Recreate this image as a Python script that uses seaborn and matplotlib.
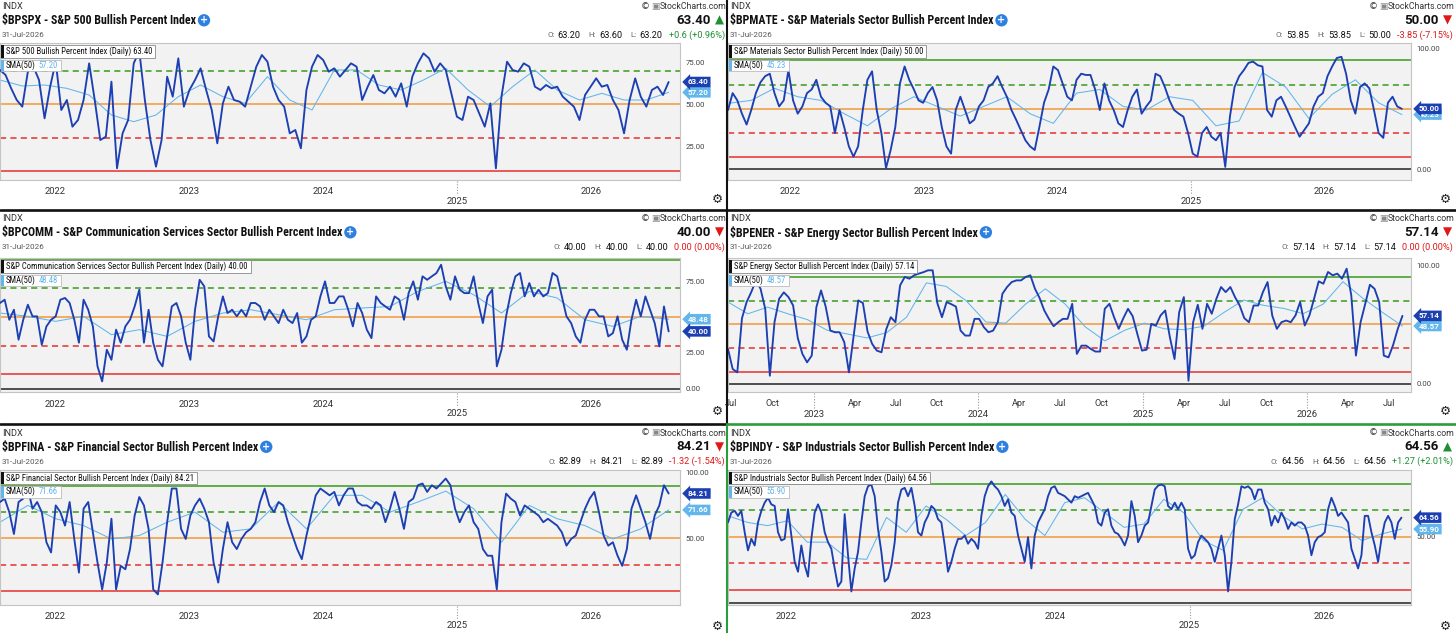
import os
import numpy as np
import pandas as pd
import matplotlib
matplotlib.use("Agg")
import matplotlib.pyplot as plt
import matplotlib.dates as mdates
import matplotlib.transforms as mtransforms
from matplotlib import font_manager as fm
from matplotlib.patches import Rectangle
from matplotlib.lines import Line2D
import seaborn as sns

# ------------------------------------------------------------------ data
END_DATE = "2026-07-31"
DATE_LABEL = "31-Jul-2026"

spx_start = "2021-08-04"
spx_bpi = [70.6, 67.6, 59.6, 52.6, 48.6, 69.6, 72.6, 64.6, 41.6, 60.6,
           75.6, 46.6, 52.6, 36.6, 40.6, 52.6, 74.6, 52.6, 28.6, 30.6,
           63.6, 11.6, 32.6, 40.6, 74.6, 82.0, 52.6, 28.6, 12.6, 28.6,
           66.6, 54.6, 77.6, 48.6, 58.6, 64.6, 71.6, 58.6, 46.6, 26.6,
           50.6, 60.6, 52.6, 51.6, 48.6, 60.6, 72.6, 79.6, 75.6, 60.6,
           52.6, 48.6, 32.6, 34.6, 23.6, 58.6, 72.6, 79.6, 76.6, 69.6,
           71.6, 66.6, 70.6, 74.6, 72.6, 52.6, 60.6, 67.6, 58.6, 56.6,
           60.6, 54.6, 62.6, 48.6, 66.6, 74.6, 80.6, 77.6, 69.6, 74.6,
           70.6, 56.6, 42.6, 40.6, 54.6, 52.6, 44.6, 36.6, 50.6, 11.6,
           54.6, 75.6, 70.6, 69.6, 74.6, 72.6, 60.6, 58.6, 61.6, 59.6,
           60.6, 54.6, 51.6, 48.6, 40.6, 55.6, 60.6, 65.6, 60.6, 61.6,
           52.6, 46.6, 32.6, 52.6, 65.6, 54.6, 48.6, 58.6, 60.6, 55.6, 63.4]
spx_sma = [64.6, 61.0, 61.6, 59.6, 55.6, 43.6, 39.6, 43.6, 54.6, 61.6,
           54.6, 50.6, 66.6, 52.6, 46.6, 70.6, 70.6, 61.6, 58.6, 64.6,
           71.6, 58.6, 48.6, 60.6, 70.6, 58.6, 52.6, 56.6, 52.6, 52.6, 57.2]

mate_start = "2021-07-15"
mate_bpi = [49, 63, 57, 46, 37, 49, 63, 72, 77, 79,
            63, 52, 57, 82, 57, 46, 52, 63, 66, 74,
            60, 55, 52, 30, 49, 35, 19, 10.5, 19, 49,
            74, 81, 49, 30, 1, 16, 35, 71, 85, 74,
            66, 57, 55, 63, 68, 57, 35, 19, 13, 49,
            60, 49, 38, 41, 52, 57, 68, 71, 77, 68,
            60, 49, 41, 32.5, 24, 19, 16, 35, 55, 66,
            85, 82, 71, 60, 57, 74, 79, 78, 78, 66,
            49, 71, 57, 49, 38, 35, 49, 60, 66, 46,
            52, 57, 79, 77, 68, 57, 49, 46, 43.5, 30,
            13, 10.5, 30, 35, 27, 24, 30, 2, 43.5, 68,
            77, 82, 88, 89, 86, 85, 49, 43.5, 57, 60,
            52, 43.5, 35, 27, 32.5, 38, 52, 60, 63, 77,
            85, 92, 93, 79, 57, 46, 68, 71, 67, 49,
            30, 26, 55, 60, 52, 50.0]
mate_sma = [54.5, 57, 67, 60, 57, 46, 36, 50, 60, 52,
            44, 52, 60, 46, 38, 63, 66, 52, 49, 60,
            57, 36, 40, 80, 68, 42, 62, 74, 55, 45.23]

comm_start = "2021-08-04"
comm_bpi = [59.8, 62.1, 48.1, 55.1, 34.2, 48.1, 58.6, 50.5, 50.5, 30.7,
            43.5, 48.1, 50.5, 62.1, 63.3, 59.8, 48.1, 32.1, 62.1, 55.1,
            43.5, 15.6, 5.1, 27.2, 20.2, 41.2, 32.1, 43.5, 48.1, 57.4,
            69.1, 32.1, 55.1, 32.1, 20.2, 15.6, 36.5, 57.4, 59.8, 50.5,
            32.1, 20.2, 55.1, 76.0, 71.4, 36.5, 33.0, 50.5, 64.4, 52.8,
            55.1, 50.5, 55.1, 50.5, 59.8, 59.8, 57.4, 48.1, 55.1, 50.5,
            45.8, 55.1, 48.1, 45.8, 52.8, 32.1, 36.5, 48.1, 50.5, 64.4,
            74.9, 59.8, 59.8, 64.4, 64.4, 55.1, 43.5, 59.8, 52.8, 41.2,
            35.3, 64.4, 59.8, 57.4, 55.1, 64.4, 62.1, 48.1, 66.7, 74.9,
            62.1, 78.4, 76.0, 78.4, 80.7, 86.5, 71.4, 62.1, 78.4, 69.1,
            66.7, 66.7, 78.4, 59.8, 45.8, 64.4, 69.1, 15.6, 27.2, 50.5,
            66.7, 78.4, 80.7, 64.4, 73.7, 64.4, 69.1, 64.4, 66.7, 80.7,
            78.4, 64.4, 50.5, 45.8, 36.5, 32.1, 48.1, 55.1, 55.1, 50.5,
            50.5, 36.5, 38.8, 50.5, 34.2, 27.2, 48.1, 62.1, 50.5, 64.4,
            55.1, 45.8, 29.5, 57.4, 40.0]
comm_sma = [52.8, 50.5, 47.0, 50.5, 37.7, 41.2, 36.5, 47.0, 52.8, 55.1,
            51.6, 48.1, 55.1, 56.3, 57.4, 67.9, 74.9, 65.6, 52.8, 67.9,
            63.3, 48.1, 43.5, 50.5, 48.48]

ener_start = "2022-06-24"
ener_bpi = [29.2, 12.3, 9.4, 55.0, 68.8, 77.2, 87.0, 80.0, 63.1, 6.6,
            51.8, 71.6, 77.0, 73.0, 65.9, 38.5, 25.0, 17.9, 23.6, 64.5,
            78.6, 65.0, 44.7, 43.3, 43.3, 34.9, 9.4, 40.0, 70.2, 68.0,
            43.9, 33.4, 27.8, 26.4, 45.6, 56.0, 51.8, 82.9, 90.0, 88.5,
            91.4, 92.8, 94.0, 95.6, 95.6, 68.0, 56.0, 68.8, 67.0, 65.0,
            44.7, 40.5, 40.5, 54.6, 54.6, 47.6, 43.3, 44.7, 51.8, 75.8,
            81.5, 85.7, 87.1, 87.1, 90.0, 91.4, 80.0, 72.1, 61.7, 54.6,
            48.4, 51.8, 54.6, 54.6, 67.3, 25.0, 32.0, 32.0, 29.2, 27.0,
            27.0, 63.1, 67.3, 56.0, 46.2, 55.2, 63.1, 56.9, 41.9, 27.8,
            28.6, 50.4, 49.0, 57.5, 61.7, 39.1, 20.7, 60.3, 73.0, 2.4,
            51.8, 66.5, 46.2, 67.3, 58.9, 71.6, 81.5, 77.2, 81.5, 73.0,
            65.9, 55.2, 51.8, 65.9, 65.9, 77.2, 85.7, 57.5, 46.2, 51.8,
            53.2, 51.8, 57.5, 68.8, 49.0, 57.5, 71.6, 86.3, 84.3, 94.2,
            91.4, 92.8, 88.5, 97.0, 74.4, 23.6, 51.8, 67.3, 83.4, 80.0,
            68.8, 23.6, 22.1, 32.6, 46.2, 57.14]
ener_sma = [68.8, 58.9, 64.5, 59.0, 54.0, 45.0, 41.9, 38.5, 43.0, 56.0,
            85.0, 82.0, 70.0, 52.0, 51.0, 67.0, 80.0, 67.0, 48.0, 36.0,
            45.0, 51.0, 46.2, 45.5, 48.5, 60.0, 70.5, 66.0, 63.5, 59.0,
            67.0, 86.0, 72.0, 60.0, 48.57]

fina_start = "2021-08-04"
fina_bpi = [77.7, 80.3, 70.0, 53.3, 77.7, 80.3, 88.0, 72.6, 77.7, 70.0,
            47.0, 39.2, 75.1, 70.0, 59.7, 77.7, 49.5, 23.8, 72.6, 77.7,
            54.6, 31.5, 11.0, 31.5, 64.9, 11.0, 29.0, 26.4, 41.8, 67.4,
            81.5, 75.1, 57.2, 11.0, 7.2, 31.5, 62.3, 88.0, 88.0, 57.2,
            49.5, 67.4, 75.1, 80.3, 72.6, 62.3, 31.5, 16.2, 41.8, 62.3,
            47.0, 41.8, 49.5, 54.6, 57.2, 62.3, 77.7, 88.0, 75.1, 70.0,
            77.7, 75.1, 62.3, 52.1, 41.8, 34.1, 52.1, 67.4, 82.8, 88.0,
            85.4, 82.8, 85.4, 75.1, 82.8, 88.0, 88.0, 77.7, 75.1, 75.1,
            72.6, 77.7, 75.1, 62.3, 72.6, 85.4, 72.6, 57.2, 77.7, 80.3,
            90.5, 91.8, 85.4, 90.5, 88.0, 91.8, 95.6, 90.5, 72.6, 62.3,
            70.0, 75.1, 62.3, 57.2, 41.8, 36.7, 36.7, 11.0, 62.3, 84.1,
            80.3, 77.7, 67.4, 75.1, 72.6, 70.0, 67.4, 62.3, 64.9, 62.3,
            59.7, 54.6, 44.4, 49.5, 52.1, 62.3, 72.6, 80.3, 85.4, 70.0,
            52.1, 44.4, 47.0, 36.7, 29.0, 41.8, 72.6, 82.8, 72.6, 62.3,
            49.5, 67.4, 75.1, 90.5, 84.21]
fina_sma = [62.3, 75.1, 64.9, 59.7, 49.5, 52.1, 62.3, 70.0, 54.6, 57.2,
            77.7, 57.2, 82.8, 82.8, 70.0, 77.7, 86.0, 72.6, 47.0, 75.1,
            64.9, 59.7, 49.5, 57.2, 71.66]

indy_start = "2021-07-26"
indy_bpi = [60.9, 68.4, 69.7, 65.9, 69.7, 53.5, 39.8, 48.5, 43.5, 60.9,
            69.7, 75.9, 79.6, 74.6, 73.4, 53.5, 47.3, 48.5, 70.9, 51.0,
            31.1, 23.6, 43.5, 28.6, 19.9, 48.5, 68.4, 74.6, 68.4, 53.5,
            46.0, 41.0, 26.1, 12.4, 16.2, 67.2, 36.1, 8.7, 26.1, 38.6,
            60.9, 80.8, 88.3, 89.6, 80.8, 56.0, 38.6, 16.2, 18.7, 28.6,
            46.0, 75.9, 85.8, 87.1, 80.8, 87.1, 73.4, 53.5, 51.0, 60.9,
            65.9, 73.4, 70.9, 63.4, 60.9, 43.5, 23.6, 31.1, 41.0, 48.5,
            48.5, 51.0, 44.8, 48.5, 46.0, 41.0, 65.9, 80.8, 88.3, 92.0,
            88.3, 85.8, 80.8, 73.4, 78.4, 68.4, 65.9, 51.0, 41.0, 31.1,
            49.8, 26.1, 51.0, 60.9, 65.9, 70.9, 80.8, 87.1, 88.3, 83.3,
            82.1, 80.8, 78.4, 75.9, 80.8, 79.6, 80.8, 82.1, 83.3, 78.4,
            73.4, 60.9, 58.5, 68.4, 70.9, 58.5, 53.5, 52.2, 48.5, 43.5,
            51.0, 77.1, 65.9, 46.0, 51.0, 58.5, 60.9, 73.4, 85.8, 88.8,
            89.6, 88.3, 73.4, 70.9, 75.9, 70.9, 75.9, 70.9, 41.0, 33.6,
            36.1, 46.0, 51.0, 48.5, 46.0, 41.0, 31.1, 41.0, 51.0, 36.1,
            8.7, 31.1, 63.4, 74.6, 88.3, 87.1, 88.3, 85.8, 78.4, 85.8,
            85.8, 75.9, 70.9, 58.5, 65.9, 60.9, 68.4, 63.4, 56.0, 60.9,
            58.5, 60.9, 60.9, 58.5, 51.0, 36.1, 46.0, 49.8, 51.0, 53.5,
            70.9, 79.6, 73.4, 65.9, 68.4, 64.7, 60.9, 41.0, 33.6, 26.1,
            36.1, 65.9, 65.9, 53.5, 43.5, 31.1, 48.5, 60.9, 65.9, 60.9,
            48.5, 60.9, 64.56]
indy_sma = [65.9, 60.9, 58.5, 62.2, 46.0, 46.0, 34.0, 33.0, 64.7, 53.5,
            73.4, 63.4, 51.0, 60.9, 82.1, 63.4, 51.0, 75.9, 79.6, 68.4,
            57.2, 59.7, 78.4, 68.4, 47.3, 39.8, 70.9, 79.6, 65.9, 56.0,
            59.7, 57.2, 47.3, 52.2, 55.9]

year_labels = ["2022", "2023", "2024", "2025", "2026"]
year_lower = ["2025"]
ener_month_labels = ["Jul", "Oct", "Apr", "Jul", "Oct", "Apr", "Jul", "Oct",
                     "Apr", "Jul", "Oct", "Apr", "Jul"]
ener_month_dates = ["2022-07-01", "2022-10-01", "2023-04-01", "2023-07-01",
                    "2023-10-01", "2024-04-01", "2024-07-01", "2024-10-01",
                    "2025-04-01", "2025-07-01", "2025-10-01", "2026-04-01",
                    "2026-07-01"]
ener_year_labels = ["2023", "2024", "2025", "2026"]

titles = ["$BPSPX - S&P 500 Bullish Percent Index",
          "$BPMATE - S&P Materials Sector Bullish Percent Index",
          "$BPCOMM - S&P Communication Services Sector Bullish Percent Index",
          "$BPENER - S&P Energy Sector Bullish Percent Index",
          "$BPFINA - S&P Financial Sector Bullish Percent Index",
          "$BPINDY - S&P Industrials Sector Bullish Percent Index"]
legend_names = ["S&P 500 Bullish Percent Index",
                "S&P Materials Sector Bullish Percent Index",
                "S&P Communication Services Sector Bullish Percent Index",
                "S&P Energy Sector Bullish Percent Index",
                "S&P Financial Sector Bullish Percent Index",
                "S&P Industrials Sector Bullish Percent Index"]
last_vals = ["63.40", "50.00", "40.00", "57.14", "84.21", "64.56"]
sma_vals = ["57.20", "45.23", "48.48", "48.57", "71.66", "55.90"]
opens = ["63.20", "53.85", "40.00", "57.14", "82.89", "64.56"]
highs = ["63.60", "53.85", "40.00", "57.14", "84.21", "64.56"]
lows = ["63.20", "50.00", "40.00", "57.14", "82.89", "64.56"]
changes = ["+0.6 (+0.96%)", "-3.85 (-7.15%)", "0.00 (0.00%)", "0.00 (0.00%)",
           "-1.32 (-1.54%)", "+1.27 (+2.01%)"]
is_up = [True, False, False, False, False, True]
guide_levels = [90, 70, 50, 30, 10, 0]

# ------------------------------------------------------------------ style
W, H = 1456, 633
sns.set_theme(style="white")
REG = ["Roboto", "DejaVu Sans"]
SYM = ["DejaVu Sans"]
plt.rcParams["font.family"] = REG


def pick_narrow():
    for fam in ["Roboto Condensed", "Liberation Sans Narrow", "Arial Narrow",
                "Open Sans Condensed", "Noto Sans Condensed"]:
        try:
            fm.findfont(fm.FontProperties(family=fam), fallback_to_default=False)
            return [fam, "DejaVu Sans"], "normal"
        except Exception:
            pass
    for fam in ["Roboto", "Noto Sans", "Open Sans"]:
        try:
            p = fm.findfont(fm.FontProperties(family=fam, stretch="condensed",
                                              weight="bold"),
                            fallback_to_default=False)
            if "ondensed" in os.path.basename(p):
                return [fam, "DejaVu Sans"], "condensed"
        except Exception:
            pass
    return REG, "normal"


NARROW, NSTRETCH = pick_narrow()

C_LINE = "#1c3fb2"
C_SMA = "#62b6ec"
C_GREEN = "#3a9a1c"
C_ORANGE = "#f2a049"
C_RED = "#e5302e"
C_UP = "#1f8f32"
C_DOWN = "#e01818"

fig = plt.figure(figsize=(W / 100, H / 100), dpi=100)
fig.patch.set_facecolor("white")
renderer = fig.canvas.get_renderer()


def fx(x):
    return x / W


def fy(y):
    return 1 - y / H


def ftext(x, y, s, **kw):
    return fig.text(fx(x), fy(y), s, **kw)


def extent_px(t):
    bb = t.get_window_extent(renderer=renderer)
    return bb.x0, bb.x1


def fit_size(s, base, target, **kw):
    t = fig.text(0, 0, s, fontsize=base, **kw)
    a, b = extent_px(t)
    t.remove()
    return min(base, base * target / max(b - a, 1))


TITLE_SIZE = fit_size(titles[0], 8.8, 196, fontweight="bold", family=NARROW,
                      fontstretch=NSTRETCH)
LEG_SIZE = fit_size(f"{legend_names[0]} (Daily) {last_vals[0]}", 6.2, 150,
                    family=NARROW, fontstretch=NSTRETCH)


def segs_right(x_right, y, segs):
    x = x_right
    for s, kw, gap in reversed(segs):
        t = ftext(x, y, s, ha="right", va="center", **kw)
        a, _ = extent_px(t)
        x = a - gap


def header(x0, y0, i):
    ftext(x0 + 2, y0 + 6.5, "INDX", fontsize=6.6, color="#333", va="center", family=REG)
    t = ftext(x0 + 2, y0 + 20.8, titles[i], fontsize=TITLE_SIZE, fontweight="bold",
              color="#111", va="center", family=NARROW, fontstretch=NSTRETCH)
    _, r = extent_px(t)
    ftext(r + 8, y0 + 20.3, "+", fontsize=7, fontweight="bold", color="white",
          ha="center", va="center", family=SYM,
          bbox=dict(boxstyle="circle,pad=0.12", fc="#2d7fe0", ec="none"))
    ftext(x0 + 2, y0 + 35, DATE_LABEL, fontsize=5.9, color="#555", va="center", family=REG)
    segs_right(x0 + 726, y0 + 6.5, [
        ("\u00a9", dict(fontsize=6.5, color="#333", family=SYM), 0),
        ("\u25a3", dict(fontsize=6.5, color="#888", family=SYM), 1),
        ("StockCharts.com", dict(fontsize=6.3, color="#333", family=REG), 0)])
    col = C_UP if is_up[i] else C_DOWN
    segs_right(x0 + 724, y0 + 20.5, [
        (last_vals[i], dict(fontsize=9.6, fontweight="bold", color="#111", family=REG), 0),
        ("\u25b2" if is_up[i] else "\u25bc", dict(fontsize=8.5, color=col, family=SYM), 4)])
    lab = dict(fontsize=5.8, color="#666", family=REG)
    val = dict(fontsize=6.6, color="#111", family=REG)
    segs_right(x0 + 725, y0 + 35, [
        ("O:", lab, 0), (opens[i], val, 3),
        ("H:", lab, 8), (highs[i], val, 3),
        ("L:", lab, 8), (lows[i], val, 3),
        (changes[i], dict(fontsize=6.6, color=col, family=REG), 6)])
    ftext(x0 + 717, y0 + 199.5, "\u2699", fontsize=9, color="#222",
          ha="center", va="center", family=SYM)


def legend_boxes(x, y, i):
    t = ftext(x + 5, y + 6.3, f"{legend_names[i]} (Daily) {last_vals[i]}",
              fontsize=LEG_SIZE, color="#111", va="center", family=NARROW,
              fontstretch=NSTRETCH, zorder=7)
    _, r = extent_px(t)
    fig.add_artist(Rectangle((fx(x), fy(y + 12.5)), (r + 3 - x) / W, 12.5 / H,
                             transform=fig.transFigure, fc="white", ec="#8a8a8a",
                             lw=0.6, zorder=6))
    fig.add_artist(Rectangle((fx(x), fy(y + 12.5)), 2.6 / W, 12.5 / H,
                             transform=fig.transFigure, fc="#111", ec="none", zorder=6.5))
    y2 = y + 14.5
    t1 = ftext(x + 5, y2 + 5.6, "SMA(50)", fontsize=LEG_SIZE, color="#111",
               va="center", family=NARROW, fontstretch=NSTRETCH, zorder=7)
    _, r1 = extent_px(t1)
    t2 = ftext(r1 + 3, y2 + 5.6, sma_vals[i], fontsize=LEG_SIZE, color=C_SMA,
               va="center", family=NARROW, fontstretch=NSTRETCH, zorder=7)
    _, r2 = extent_px(t2)
    fig.add_artist(Rectangle((fx(x), fy(y2 + 11.5)), (r2 + 3 - x) / W, 11.5 / H,
                             transform=fig.transFigure, fc="white", ec="#b0b0b0",
                             lw=0.5, zorder=6))
    fig.add_artist(Rectangle((fx(x), fy(y2 + 11.5)), 2.6 / W, 11.5 / H,
                             transform=fig.transFigure, fc=C_SMA, ec="none", zorder=6.5))


def value_tag(ax, yval, text, fc):
    trans = mtransforms.blended_transform_factory(ax.transAxes, ax.transData)
    trans = trans + mtransforms.ScaledTranslation(8 / 100, 0, fig.dpi_scale_trans)
    ax.text(1.0, yval, text, transform=trans, fontsize=5.8, fontweight="bold",
            color="white", ha="left", va="center", family=REG, clip_on=False,
            zorder=10, bbox=dict(boxstyle="larrow,pad=0.22", fc=fc, ec="none"))


def draw_panel(i, x0, y0, px0, px1, py0, py1, start, bpi, sma, ylim, yticks,
               pad_days, energy=False, zero_line=True):
    ax = fig.add_axes([fx(px0), fy(py1), (px1 - px0) / W, (py1 - py0) / H])
    ax.set_facecolor("#f2f2f2")
    dates = pd.date_range(start, END_DATE, periods=len(bpi))
    sdates = pd.date_range(start, END_DATE, periods=len(sma))
    dash = (0, (4, 2.8))
    ax.axhline(guide_levels[0], color=C_GREEN, lw=1.1, zorder=1)
    ax.axhline(guide_levels[1], color=C_GREEN, lw=1.1, ls=dash, zorder=1)
    ax.axhline(guide_levels[2], color=C_ORANGE, lw=1.2, zorder=1)
    ax.axhline(guide_levels[3], color=C_RED, lw=1.1, ls=dash, zorder=1)
    ax.axhline(guide_levels[4], color=C_RED, lw=1.1, zorder=1)
    if zero_line:
        ax.axhline(guide_levels[5], color="#222", lw=1.1, zorder=1)
    sns.lineplot(x=sdates, y=sma, ax=ax, color=C_SMA, linewidth=0.75, zorder=2)
    sns.lineplot(x=dates, y=bpi, ax=ax, color=C_LINE, linewidth=1.35, zorder=3)
    ax.set_xlim(dates[0], dates[-1] + pd.Timedelta(days=pad_days))
    ax.set_ylim(*ylim)
    ax.set_xlabel("")
    ax.set_ylabel("")
    ax.set_xticks([])
    ax.yaxis.tick_right()
    ax.set_yticks(yticks)
    ax.set_yticklabels([f"{v:.2f}" for v in yticks])
    ax.tick_params(axis="y", length=0, pad=4, labelsize=5.6, labelcolor="#444")
    for lab in ax.get_yticklabels():
        lab.set_family(REG)
    for sp in ax.spines.values():
        sp.set_color("#c4c4c4")
        sp.set_linewidth(0.8)

    bt = mtransforms.blended_transform_factory(ax.transData, fig.transFigure)
    if not energy:
        for lab in year_labels:
            xd = mdates.date2num(pd.Timestamp(f"{lab}-01-01"))
            if lab in year_lower:
                ax.plot([xd, xd], [fy(py1 + 1), fy(py1 + 15)], transform=bt,
                        color="#999", lw=0.8, ls=(0, (1, 1.5)), clip_on=False)
                ax.text(xd, fy(py1 + 21.5), lab, transform=bt, ha="center",
                        va="center", fontsize=6.8, color="#333", family=REG)
            else:
                ax.text(xd, fy(py1 + 12), lab, transform=bt, ha="center",
                        va="center", fontsize=6.8, color="#333", family=REG)
    else:
        for lab, d in zip(ener_month_labels, ener_month_dates):
            xd = mdates.date2num(pd.Timestamp(d))
            ax.text(xd, fy(py1 + 11.6), lab, transform=bt, ha="center",
                    va="center", fontsize=6.6, color="#333", family=REG)
        for lab in ener_year_labels:
            xd = mdates.date2num(pd.Timestamp(f"{lab}-01-01"))
            ax.plot([xd, xd], [fy(py1 + 1), fy(py1 + 17)], transform=bt,
                    color="#999", lw=0.8, ls=(0, (1, 1.5)), clip_on=False)
            ax.text(xd, fy(py1 + 22.6), lab, transform=bt, ha="center",
                    va="center", fontsize=6.8, color="#333", family=REG)

    value_tag(ax, float(sma_vals[i]), sma_vals[i], C_SMA)
    value_tag(ax, float(last_vals[i]), last_vals[i], C_LINE)
    header(x0, y0, i)
    legend_boxes(px0 + 1, py0 + 2, i)
    return ax


LX0, RX0 = 0, 728
L_PLOT = (0, 680)
R_PLOT = (728, 1411)
ROWS = [(0, 43, 180), (212, 258, 392.3), (426.5, 469.5, 604.5)]

draw_panel(0, LX0, ROWS[0][0], *L_PLOT, ROWS[0][1], ROWS[0][2], spx_start,
           spx_bpi, spx_sma, (4.6, 86.8), [25, 50, 75], 31, zero_line=False)
draw_panel(1, RX0, ROWS[0][0], *R_PLOT, ROWS[0][1], ROWS[0][2], mate_start,
           mate_bpi, mate_sma, (-8.8, 104.4), [0, 100], 25)
draw_panel(2, LX0, ROWS[1][0], *L_PLOT, ROWS[1][1], ROWS[1][2], comm_start,
           comm_bpi, comm_sma, (-2.5, 91.2), [0, 25, 75], 31)
draw_panel(3, RX0, ROWS[1][0], *R_PLOT, ROWS[1][1], ROWS[1][2], ener_start,
           ener_bpi, ener_sma, (-7.4, 106), [0, 100], 19, energy=True)
draw_panel(4, LX0, ROWS[2][0], *L_PLOT, ROWS[2][1], ROWS[2][2], fina_start,
           fina_bpi, fina_sma, (-0.5, 102.5), [50, 100], 31, zero_line=False)
draw_panel(5, RX0, ROWS[2][0], *R_PLOT, ROWS[2][1], ROWS[2][2], indy_start,
           indy_bpi, indy_sma, (-1.2, 101), [50], 26)

SEP = "#111"
SEL = "#2a9d3c"
fig.add_artist(Line2D([0, 1], [fy(209.5)] * 2, color=SEP, lw=1.9, zorder=20))
fig.add_artist(Line2D([0, fx(727)], [fy(424)] * 2, color=SEP, lw=1.9, zorder=20))
fig.add_artist(Line2D([fx(727), 1], [fy(424)] * 2, color=SEL, lw=1.9, zorder=20))
fig.add_artist(Line2D([fx(727)] * 2, [fy(0), fy(424)], color=SEP, lw=1.5, zorder=20))
fig.add_artist(Line2D([fx(727)] * 2, [fy(424), fy(633)], color=SEL, lw=1.5, zorder=20))

fig.savefig("out.png", dpi=100, facecolor="white")
